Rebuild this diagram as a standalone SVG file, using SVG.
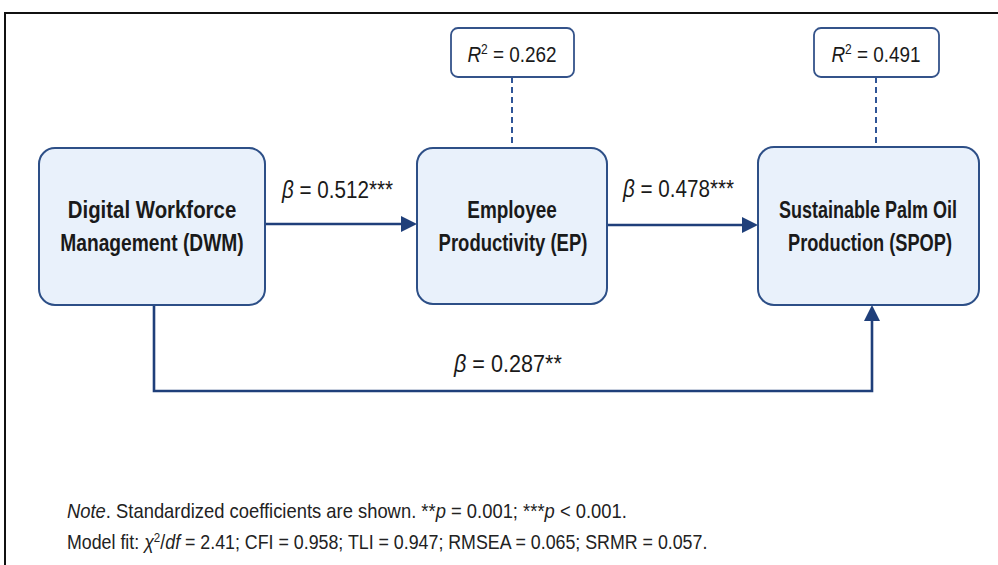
<svg xmlns="http://www.w3.org/2000/svg" width="998" height="565" viewBox="0 0 998 565">
<style>
.node{fill:#e9f1fb;stroke:#2d4f87;stroke-width:2}
.r2box{fill:#ffffff;stroke:#34538a;stroke-width:1.8}
.lbl{font-family:"Liberation Sans",Arial,sans-serif;font-weight:bold;font-size:24px;fill:#1a1a1a;text-anchor:middle}
.r2{font-family:"Liberation Sans",Arial,sans-serif;font-size:22px;fill:#1a1a1a;text-anchor:middle}
.beta{font-family:"Liberation Sans",Arial,sans-serif;font-size:24px;fill:#1a1a1a}
.note{font-family:"Liberation Sans",Arial,sans-serif;font-size:20px;fill:#222222}
.conn{fill:none;stroke:#1f3f7a;stroke-width:2.6}
.dash{fill:none;stroke:#2f5597;stroke-width:2;stroke-dasharray:6 4}
</style>
<defs>
<marker id="ah" markerUnits="userSpaceOnUse" markerWidth="18" markerHeight="18" refX="5" refY="8" orient="auto">
<path d="M0,0 L16,8 L0,16 Z" fill="#1f3f7a"/>
</marker>
</defs>
<rect x="0" y="0" width="998" height="565" fill="#ffffff"/>
<path d="M5,575 V13 H1005" fill="none" stroke="#111111" stroke-width="2"/>

<g id="connectors">
<path class="conn" d="M265,224 H406" marker-end="url(#ah)"/>
<path class="conn" d="M607,225 H747" marker-end="url(#ah)"/>
<path class="conn" d="M154,305 V391 H872 V316" marker-end="url(#ah)"/>
<path class="dash" d="M512,77 V148"/>
<path class="dash" d="M876,77 V147"/>
<text class="beta" transform="translate(282,198) scale(0.86,1)"><tspan font-style="italic">β</tspan> = 0.512***</text>
<text class="beta" transform="translate(623,197) scale(0.86,1)"><tspan font-style="italic">β</tspan> = 0.478***</text>
<text class="beta" transform="translate(454,372) scale(0.90,1)"><tspan font-style="italic">β</tspan> = 0.287**</text>
</g>

<g id="dwm">
<rect class="node" x="39" y="148" width="226" height="157" rx="16"/>
<text class="lbl" transform="translate(152,218) scale(0.85,1)">Digital Workforce</text>
<text class="lbl" transform="translate(152,251) scale(0.80,1)">Management (DWM)</text>
</g>

<g id="ep">
<rect class="node" x="417" y="148" width="190" height="156" rx="16"/>
<text class="lbl" transform="translate(512,218) scale(0.79,1)">Employee</text>
<text class="lbl" transform="translate(513,251) scale(0.77,1)">Productivity (EP)</text>
</g>

<g id="spop">
<rect class="node" x="758" y="147" width="221" height="158" rx="16"/>
<text class="lbl" transform="translate(868,218) scale(0.75,1)">Sustainable Palm Oil</text>
<text class="lbl" transform="translate(870,251) scale(0.76,1)">Production (SPOP)</text>
</g>

<g id="r2-ep">
<rect class="r2box" x="451" y="28" width="123" height="49" rx="7"/>
<text class="r2" transform="translate(512,62) scale(0.86,1)"><tspan font-style="italic">R</tspan><tspan font-size="14" dy="-8">2</tspan><tspan dy="8"> = 0.262</tspan></text>
</g>

<g id="r2-spop">
<rect class="r2box" x="814" y="28" width="125" height="49" rx="7"/>
<text class="r2" transform="translate(876,62) scale(0.86,1)"><tspan font-style="italic">R</tspan><tspan font-size="14" dy="-8">2</tspan><tspan dy="8"> = 0.491</tspan></text>
</g>

<g id="footnote">
<text class="note" transform="translate(67,518) scale(0.92,1)"><tspan font-style="italic">Note</tspan>. Standardized coefficients are shown. **<tspan font-style="italic">p</tspan> = 0.001; ***<tspan font-style="italic">p</tspan> &lt; 0.001.</text>
<text class="note" transform="translate(67,549) scale(0.89,1)">Model fit: <tspan font-style="italic">χ</tspan><tspan font-size="13" dy="-7">2</tspan><tspan dy="7">/</tspan><tspan font-style="italic">df</tspan> = 2.41; CFI = 0.958; TLI = 0.947; RMSEA = 0.065; SRMR = 0.057.</text>
</g>
</svg>
